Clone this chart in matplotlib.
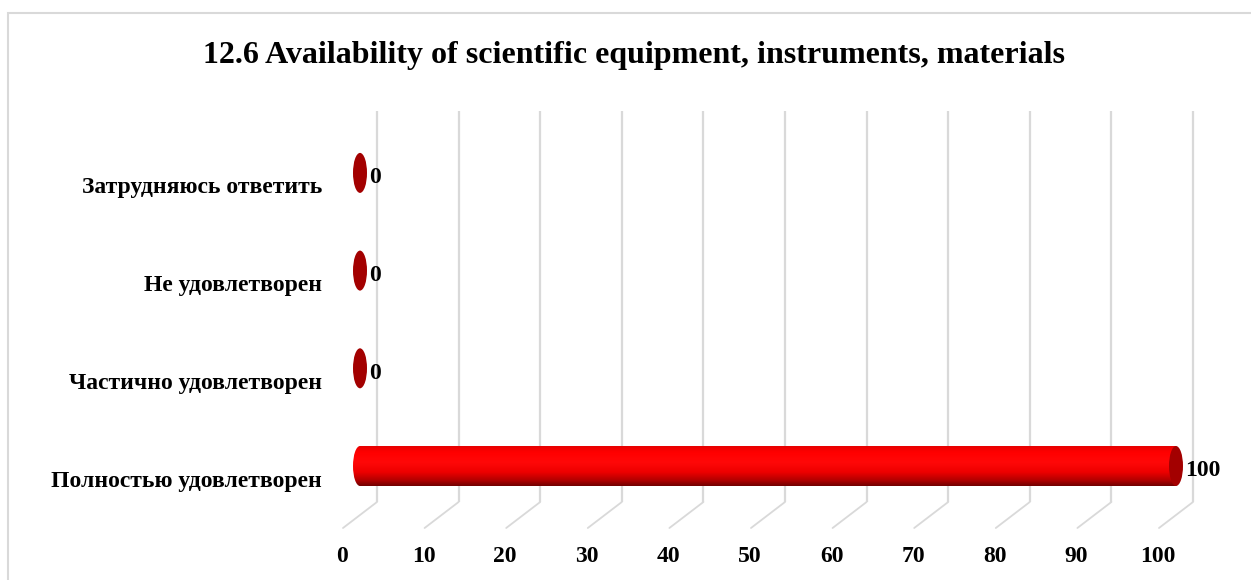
"""
plot.py

3D-style cylinder bar chart: availability of scientific equipment.
"""

import numpy as np
import matplotlib
matplotlib.use("Agg")
import matplotlib.pyplot as plt
from matplotlib.colors import LinearSegmentedColormap
from matplotlib.patches import Ellipse, Rectangle, ConnectionPatch
from matplotlib.transforms import ScaledTranslation, blended_transform_factory


# -------------------------------------------------------
# Data
# -------------------------------------------------------

title = "12.6 Availability of scientific equipment, instruments, materials"
categories = ["Полностью удовлетворен", "Частично удовлетворен",
              "Не удовлетворен", "Затрудняюсь ответить"]
values = [100, 0, 0, 0]
ticks = [0, 10, 20, 30, 40, 50, 60, 70, 80, 90, 100]

# -------------------------------------------------------
# Figure / axes setup
# -------------------------------------------------------

DPI = 100
W, H = 1251, 580
plt.rcParams["font.family"] = ["Liberation Serif", "DejaVu Serif"]
plt.rcParams["font.weight"] = "bold"

fig = plt.figure(figsize=(W / DPI, H / DPI), dpi=DPI)
ax = fig.add_axes([0, 0, 1, 1])
ax.axis("off")

# front plane: value 0 at x=360px, 100 at x=1176px
x0_px, unit_px = 360, 8.16
# category i centred at y = 466 - 97.7*i (from top)
y0_px, step_px = H - 466, 97.7


def set_limits():
    ax.set_xlim(-x0_px / unit_px, (W - x0_px) / unit_px)
    ax.set_ylim(-y0_px / step_px, (H - y0_px) / step_px)


def shift(base, dx, dy):
    """Offset a transform by pixels."""
    return base + ScaledTranslation(dx / DPI, dy / DPI, fig.dpi_scale_trans)


set_limits()
xa = blended_transform_factory(ax.transData, ax.transAxes)
back = shift(xa, 17, 0)
front = shift(xa, -17, 0)

grid_top = 1 - 111 / H
grid_bot = 1 - 502 / H
floor_y = 1 - 528 / H
grey = "#D9D9D9"

# -------------------------------------------------------
# Back wall gridlines, floor lines and tick labels
# -------------------------------------------------------

for v in ticks:
    ax.plot([v, v], [grid_bot, grid_top], color=grey, lw=1.6,
            transform=back, solid_capstyle="butt", zorder=1)
    con = ConnectionPatch((v, grid_bot), (v, floor_y),
                          coordsA=back, coordsB=front,
                          color=grey, lw=1.3, zorder=1)
    ax.add_artist(con)
    ax.text(v, 1 - 556 / H, str(v), transform=shift(xa, -18, 0),
            ha="center", va="center", fontsize=17, fontweight="bold")

# -------------------------------------------------------
# Cylinders
# -------------------------------------------------------

body_cmap = LinearSegmentedColormap.from_list("cyl", [
    (0.0, "#700000"), (0.15, "#B40000"), (0.35, "#EE0000"),
    (0.6, "#FF0808"), (0.85, "#FF0000"), (1.0, "#E60000")])
grad = np.linspace(0, 1, 256).reshape(-1, 1)

ell_w = 14 / unit_px
ell_h = 40 / step_px
face_color = "#A30000"

for i, (cat, val) in enumerate(zip(categories, values)):
    y = i
    if val > 0:
        ax.imshow(grad, cmap=body_cmap, origin="lower", aspect="auto",
                  extent=[0, val, y - ell_h / 2, y + ell_h / 2], zorder=3)
        cap = ax.imshow(grad, cmap=body_cmap, origin="lower", aspect="auto",
                        extent=[-ell_w, ell_w, y - ell_h / 2, y + ell_h / 2],
                        zorder=3)
        clip = Ellipse((0, y), ell_w, ell_h, transform=ax.transData)
        cap.set_clip_path(clip)
    ax.add_patch(Ellipse((val, y), ell_w, ell_h, facecolor=face_color,
                         edgecolor="none", zorder=4))
    # value label
    ax.text(val, y, str(val), transform=shift(ax.transData, 9, -5),
            ha="left", va="center", fontsize=17, fontweight="bold", zorder=5)
    # category label
    ax.text(0, y, cat, transform=shift(ax.transData, -38, -15),
            ha="right", va="center", fontsize=17, fontweight="bold")

set_limits()

# -------------------------------------------------------
# Title and chart border
# -------------------------------------------------------

fig.text(634 / W, 1 - 55 / H, title, ha="center", va="center",
         fontsize=23, fontweight="bold")
fig.add_artist(Rectangle((8 / W, -0.05), 1.1, 1 - 13 / H + 0.05,
                         transform=fig.transFigure, fill=False,
                         edgecolor=grey, lw=1.5))

fig.savefig("out.png", dpi=DPI)
